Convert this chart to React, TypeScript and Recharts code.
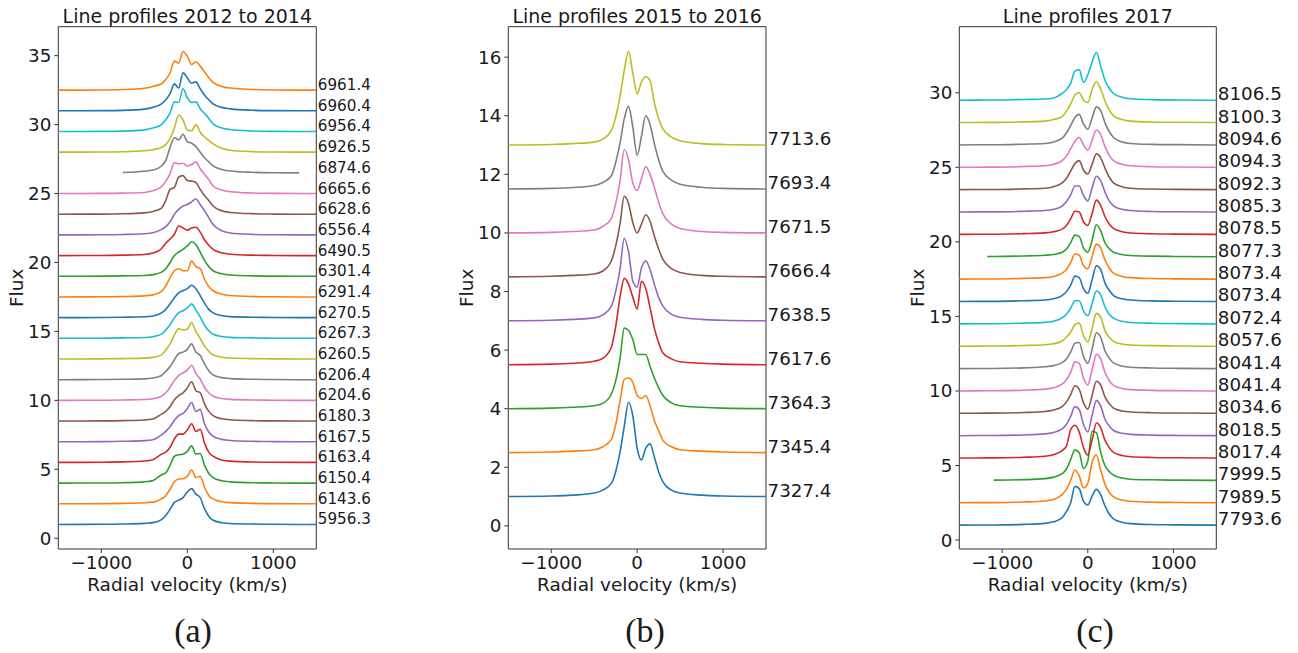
import { Line, LineChart, ReferenceArea, ReferenceDot, XAxis, YAxis } from "recharts";

// matplotlib default colour cycle
const palette = [
  "#1f77b4", "#ff7f0e", "#2ca02c", "#d62728", "#9467bd",
  "#8c564b", "#e377c2", "#7f7f7f", "#bcbd22", "#17becf",
];

// ---- 2012 to 2014 ----
// radial velocity grid (km/s)
const velocitiesA = [-1500, -1000, -750, -500, -400, -300, -250, -200, -150, -100, -50, 0, 50, 100, 150, 200, 250, 300, 400, 500, 750, 1000, 1300, 1500];
// epochs, bottom profile first
const epochsA = [
  "5956.3", "6143.6", "6150.4", "6163.4", "6167.5", "6180.3", "6204.6", "6206.4",
  "6260.5", "6267.3", "6270.5", "6291.4", "6301.4", "6490.5", "6556.4", "6628.6",
  "6665.6", "6874.6", "6926.5", "6956.4", "6960.4", "6961.4",
];
// flux above continuum
const profilesA: (number | null)[][] = [
  [0, .01, .03, .08, .13, .35, .65, 1.1, 1.6, 1.75, 1.95, 2.35, 2.6, 2.2, 1.95, 1.15, .6, .3, .13, .07, .03, .01, 0, 0],
  [0, .01, .03, .07, .12, .35, .6, 1.05, 1.6, 1.8, 1.82, 2.0, 2.45, 1.9, 2.0, 1.2, .6, .35, .15, .08, .03, .01, 0, 0],
  [0, .01, .03, .09, .18, .6, .75, 1.3, 1.95, 2.05, 2.1, 2.3, 2.7, 2.1, 2.15, 1.3, .7, .4, .17, .09, .03, .01, 0, 0],
  [0, .01, .04, .1, .2, .6, .75, 1.1, 1.7, 2.05, 2.05, 2.35, 2.8, 2.25, 2.4, 1.4, .75, .45, .18, .09, .03, .01, 0, 0],
  [0, .01, .03, .08, .15, .5, .75, 1.1, 1.55, 1.9, 2.05, 2.4, 2.85, 2.2, 2.35, 1.3, .7, .4, .17, .09, .03, .01, 0, 0],
  [0, .01, .03, .08, .15, .5, .7, 1.05, 1.55, 1.85, 2.05, 2.4, 2.85, 2.2, 2.05, 1.25, .7, .4, .17, .09, .03, .01, 0, 0],
  [0, .01, .03, .06, .12, .3, .55, .95, 1.45, 1.8, 2.0, 2.2, 2.55, 1.95, 1.55, .95, .55, .3, .13, .07, .03, .01, 0, 0],
  [0, .01, .03, .06, .12, .3, .6, .95, 1.45, 1.9, 2.0, 2.2, 2.6, 2.0, 1.75, 1.15, .65, .35, .15, .08, .03, .01, 0, 0],
  [0, .01, .03, .06, .12, .3, .65, 1.1, 1.75, 2.2, 2.1, 2.15, 2.65, 2.0, 1.5, .95, .55, .3, .13, .07, .03, .01, 0, 0],
  [0, .01, .03, .06, .12, .3, .6, 1.0, 1.5, 1.85, 2.0, 2.2, 2.5, 2.05, 1.55, .95, .55, .3, .13, .07, .03, .01, 0, 0],
  [0, .01, .03, .06, .12, .35, .6, 1.0, 1.45, 1.8, 1.95, 2.1, 2.35, 2.1, 1.6, 1.05, .6, .35, .15, .07, .03, .01, 0, 0],
  [0, .01, .03, .08, .15, .4, .8, 1.4, 1.9, 2.05, 1.9, 1.9, 2.6, 2.2, 2.05, 1.3, .75, .45, .2, .1, .03, .01, 0, 0],
  [0, .01, .03, .06, .12, .3, .55, 1.0, 1.5, 1.75, 1.95, 2.2, 2.5, 2.3, 1.75, 1.15, .7, .4, .18, .09, .03, .01, 0, 0],
  [0, .01, .03, .08, .18, .5, .9, 1.2, 1.55, 2.15, 2.0, 1.85, 2.0, 2.05, 1.7, 1.15, .75, .45, .2, .1, .03, .01, 0, 0],
  [0, .01, .03, .08, .15, .4, .6, .95, 1.5, 1.85, 2.1, 2.2, 2.4, 2.6, 2.2, 1.75, 1.25, .75, .3, .14, .04, .01, 0, 0],
  [0, .01, .03, .1, .2, .45, 1.0, 1.8, 1.95, 2.7, 2.8, 2.45, 2.4, 2.3, 1.8, 1.35, 1.0, .6, .25, .13, .04, .01, 0, 0],
  [0, .01, .03, .08, .2, .5, .9, 1.45, 2.25, 2.15, 2.2, 2.0, 2.1, 2.3, 1.8, 1.4, 1.0, .55, .25, .13, .04, .01, 0, 0],
  [null, null, .03, .12, .2, .5, .9, 1.85, 2.55, 2.4, 2.8, 2.25, 2.15, 1.9, 1.5, 1.1, .8, .5, .25, .13, .04, .01, 0, null],
  [0, .01, .03, .1, .18, .35, .55, 1.0, 1.75, 2.7, 2.35, 1.6, 1.55, 2.0, 1.45, 1.1, .85, .6, .28, .14, .04, .01, 0, 0],
  [0, .01, .03, .12, .25, .5, .85, 1.35, 2.15, 2.1, 3.1, 2.45, 2.1, 2.15, 1.65, 1.3, .95, .55, .25, .14, .04, .01, 0, 0],
  [0, .01, .03, .12, .25, .5, .8, 1.25, 1.95, 1.65, 2.75, 2.4, 2.0, 2.1, 1.6, 1.15, .8, .5, .25, .14, .04, .01, 0, 0],
  [0, .01, .04, .14, .27, .46, .77, 1.26, 2.1, 1.95, 2.8, 2.47, 1.86, 2.06, 1.74, 1.33, .9, .56, .27, .15, .05, .01, 0, 0],
];

// ---- 2015 to 2016 ----
const velocitiesB = [-1500, -1000, -750, -500, -400, -300, -250, -200, -150, -100, -50, 0, 50, 100, 150, 200, 250, 300, 400, 500, 750, 1000, 1500];
const epochsB = ["7327.4", "7345.4", "7364.3", "7617.6", "7638.5", "7666.4", "7671.5", "7693.4", "7713.6"];
const profilesB: (number | null)[][] = [
  [0, .02, .05, .12, .22, .45, .85, 1.5, 2.4, 3.22, 2.75, 1.65, 1.25, 1.65, 1.8, 1.35, .85, .5, .22, .12, .05, .02, 0],
  [0, .02, .05, .1, .2, .45, .95, 1.75, 2.5, 2.55, 2.4, 1.95, 1.85, 1.95, 1.6, 1.1, .75, .42, .2, .1, .05, .02, 0],
  [0, .02, .05, .1, .18, .5, .95, 1.7, 2.75, 2.67, 2.35, 1.85, 1.85, 1.85, 1.45, 1.05, .72, .45, .2, .1, .05, .02, 0],
  [0, .02, .05, .12, .22, .6, 1.3, 2.3, 2.95, 2.75, 2.3, 1.9, 2.85, 2.6, 1.95, 1.25, .75, .4, .2, .1, .05, .02, 0],
  [0, .02, .05, .1, .2, .5, 1.0, 1.75, 2.82, 2.35, 1.35, 1.15, 1.8, 2.05, 1.75, 1.25, .8, .5, .22, .12, .05, .02, 0],
  [0, .02, .05, .1, .2, .55, 1.05, 1.8, 2.75, 2.5, 1.85, 1.5, 1.8, 2.12, 1.9, 1.4, .95, .6, .28, .15, .05, .02, 0],
  [0, .02, .05, .1, .22, .5, 1.0, 1.75, 2.85, 2.5, 1.7, 1.45, 1.85, 2.27, 2.0, 1.55, 1.05, .65, .3, .15, .05, .02, 0],
  [0, .02, .05, .12, .22, .45, .9, 1.55, 2.4, 2.82, 2.1, 1.15, 1.8, 2.5, 2.2, 1.55, 1.0, .6, .3, .16, .06, .02, 0],
  [0, .02, .05, .1, .2, .5, .95, 1.65, 2.55, 3.2, 2.45, 1.75, 2.15, 2.33, 2.2, 1.45, .9, .55, .27, .15, .05, .02, 0],
];

// ---- 2017 ----
const velocitiesC = [-1500, -1175, -1100, -750, -500, -400, -300, -250, -200, -150, -100, -50, 0, 50, 100, 150, 200, 250, 300, 400, 500, 750, 1000, 1500];
const epochsC = [
  "7793.6", "7989.5", "7999.5", "8017.4", "8018.5", "8034.6", "8041.4", "8041.4", "8057.6", "8072.4",
  "8073.4", "8073.4", "8077.3", "8078.5", "8085.3", "8092.3", "8094.3", "8094.6", "8100.3", "8106.5",
];
const profilesC: (number | null)[][] = [
  [0, .01, .01, .05, .12, .22, .5, .9, 1.5, 2.6, 2.45, 1.6, 1.35, 1.95, 2.4, 2.05, 1.3, .75, .42, .2, .1, .04, .02, 0],
  [0, .01, .01, .05, .12, .22, .55, .9, 1.5, 2.2, 1.8, 1.0, 1.3, 2.7, 3.2, 2.2, 1.25, .7, .4, .18, .1, .04, .02, 0],
  [null, null, .02, .05, .12, .22, .45, .75, 1.4, 2.05, 1.85, .8, 1.3, 3.3, 3.2, 1.9, 1.0, .6, .35, .16, .08, .04, .02, 0],
  [0, .01, .01, .05, .12, .22, .5, .8, 1.9, 2.2, 1.75, .7, .2, 1.2, 2.35, 2.05, 1.2, .7, .38, .17, .09, .04, .02, 0],
  [0, .01, .01, .05, .12, .22, .45, .75, 1.3, 1.95, 1.75, .75, .25, 1.35, 2.35, 2.0, 1.1, .65, .35, .16, .09, .04, .02, 0],
  [0, .01, .01, .05, .12, .22, .45, .75, 1.25, 1.85, 1.6, .7, .28, 1.2, 2.15, 1.9, 1.1, .65, .35, .16, .09, .04, .02, 0],
  [0, .01, .01, .05, .12, .22, .45, .75, 1.25, 1.95, 1.85, .85, .4, 1.4, 2.45, 2.15, 1.25, .7, .38, .17, .09, .04, .02, 0],
  [0, .01, .01, .05, .12, .2, .4, .65, 1.1, 1.7, 1.75, .8, .35, 1.3, 2.4, 2.1, 1.2, .7, .38, .17, .09, .04, .02, 0],
  [0, .01, .01, .05, .1, .17, .35, .6, .95, 1.45, 1.55, .7, .28, 1.2, 2.2, 1.95, 1.05, .6, .33, .15, .08, .04, .02, 0],
  [0, .01, .01, .05, .1, .18, .4, .65, 1.05, 1.55, 1.55, .85, .55, 1.35, 2.2, 1.95, 1.15, .65, .38, .17, .09, .04, .02, 0],
  [0, .01, .01, .05, .1, .18, .4, .65, 1.1, 1.7, 1.6, .85, .55, 1.45, 2.4, 2.15, 1.25, .75, .4, .18, .1, .04, .02, 0],
  [0, .01, .01, .05, .1, .18, .4, .65, 1.1, 1.7, 1.6, .9, .7, 1.5, 2.35, 2.1, 1.3, .75, .4, .18, .1, .04, .02, 0],
  [null, .02, .02, .05, .1, .15, .3, .5, .95, 1.45, 1.35, .6, .3, 1.1, 2.15, 1.75, .95, .55, .3, .15, .08, .04, .02, 0],
  [0, .01, .01, .05, .1, .18, .35, .6, 1.05, 1.55, 1.5, .85, .6, 1.4, 2.3, 1.95, 1.2, .7, .4, .18, .09, .04, .02, 0],
  [0, .01, .01, .05, .1, .18, .4, .7, 1.15, 1.75, 1.75, 1.1, .75, 1.6, 2.4, 2.1, 1.35, .75, .42, .18, .1, .04, .02, 0],
  [0, .01, .01, .05, .1, .2, .45, .75, 1.25, 1.75, 1.95, 1.3, 1.05, 1.7, 2.4, 2.15, 1.45, .85, .45, .2, .1, .04, .02, 0],
  [0, .01, .01, .05, .1, .2, .45, .75, 1.25, 1.75, 2.0, 1.5, 1.15, 1.8, 2.5, 2.2, 1.4, .8, .45, .2, .1, .04, .02, 0],
  [0, .01, .01, .05, .1, .2, .45, .8, 1.3, 1.85, 2.05, 1.4, 1.05, 1.8, 2.55, 2.3, 1.5, .9, .5, .2, .1, .04, .02, 0],
  [0, .01, .01, .05, .1, .2, .4, .75, 1.25, 1.85, 2.0, 1.5, 1.35, 2.2, 2.75, 2.25, 1.45, .85, .45, .2, .1, .04, .02, 0],
  [0, .01, .01, .05, .08, .15, .45, .7, 1.15, 1.95, 2.05, 1.2, 1.7, 2.55, 3.2, 2.3, 1.35, .8, .45, .2, .1, .04, .02, 0],
];

const FONT = "DejaVu Sans";
const INK = "#1a1a1a";
const FIRST_OFFSET = 1;
const OFFSET_STEP = 1.5;
const CHART_H = 653;
const PLOT_TOP = 26.7;
const PLOT_BOTTOM = 549;
const Y_AXIS_W = 50;
const X_AXIS_H = 30;

const fmtTick = (v: number) => (v < 0 ? `\u2212${Math.abs(v)}` : `${v}`);

type PanelProps = {
  left: number;
  width: number;
  plotLeft: number;
  plotWidth: number;
  title: string;
  tag: string;
  tagX: number;
  velocities: number[];
  profiles: (number | null)[][];
  epochs: string[];
  yDomain: [number, number];
  yTicks: number[];
  epochSize: number;
};

function ProfilePanel(props: PanelProps) {
  const { left, width, plotLeft, plotWidth, title, tag, tagX, velocities, profiles, epochs, yDomain, yTicks, epochSize } = props;

  // each profile is stacked on its own continuum level
  const data = velocities.map((v, j) => {
    const row: Record<string, number | null> = { v };
    profiles.forEach((p, i) => {
      const f = p[j];
      row[`s${i}`] = f === null ? null : FIRST_OFFSET + OFFSET_STEP * i + f;
    });
    return row;
  });

  const localPlotLeft = plotLeft - left;
  const midX = localPlotLeft + plotWidth / 2;
  const midY = (PLOT_TOP + PLOT_BOTTOM) / 2;

  return (
    <div style={{ position: "absolute", left, top: 0 }}>
      <LineChart
        width={width}
        height={CHART_H}
        data={data}
        margin={{
          top: PLOT_TOP,
          left: localPlotLeft - Y_AXIS_W,
          right: width - localPlotLeft - plotWidth,
          bottom: CHART_H - PLOT_BOTTOM - X_AXIS_H,
        }}
        style={{ fontFamily: FONT }}
      >
        <XAxis
          dataKey="v"
          type="number"
          domain={[-1500, 1500]}
          ticks={[-1000, 0, 1000]}
          tickFormatter={fmtTick}
          allowDataOverflow
          height={X_AXIS_H}
          axisLine={false}
          tickSize={4}
          tickMargin={3}
          tickLine={{ stroke: "#333" }}
          tick={{ fontSize: 18.3, fill: INK, fontFamily: FONT }}
        />
        <YAxis
          type="number"
          domain={yDomain}
          ticks={yTicks}
          allowDataOverflow
          width={Y_AXIS_W}
          axisLine={false}
          tickSize={4}
          tickMargin={3}
          tickLine={{ stroke: "#333" }}
          tick={{ fontSize: 18.3, fill: INK, fontFamily: FONT }}
        />
        <ReferenceArea
          x1={-1500}
          x2={1500}
          y1={yDomain[0]}
          y2={yDomain[1]}
          fill="none"
          stroke="#333"
          strokeWidth={1}
          ifOverflow="visible"
        />
        {profiles.map((_, i) => (
          <Line
            key={`s${i}`}
            dataKey={`s${i}`}
            type="monotone"
            stroke={palette[i % palette.length]}
            strokeWidth={1.6}
            dot={false}
            activeDot={false}
            isAnimationActive={false}
          />
        ))}
        {epochs.map((e, i) => (
          <ReferenceDot
            key={`e${i}`}
            x={1500}
            y={FIRST_OFFSET + OFFSET_STEP * i}
            r={0}
            ifOverflow="visible"
            shape={(p: { cx: number; cy: number }) => (
              <text x={p.cx + 1.5} y={p.cy} fontSize={epochSize} fill={INK} fontFamily={FONT}>
                {e}
              </text>
            )}
          />
        ))}
        <text x={midX} y={23.3} textAnchor="middle" fontSize={19} fill={INK} fontFamily={FONT}>
          {title}
        </text>
        <text
          x={localPlotLeft - 35}
          y={midY}
          transform={`rotate(-90, ${localPlotLeft - 35}, ${midY})`}
          textAnchor="middle"
          fontSize={18.5}
          fill={INK}
          fontFamily={FONT}
        >
          Flux
        </text>
        <text x={midX} y={590.6} textAnchor="middle" fontSize={18.5} fill={INK} fontFamily={FONT}>
          Radial velocity (km/s)
        </text>
        <text x={tagX - left} y={642} textAnchor="middle" fontSize={34} fill={INK} fontFamily="Liberation Serif">
          {tag}
        </text>
      </LineChart>
    </div>
  );
}

export default function App() {
  return (
    <div style={{ position: "absolute", left: 0, top: 0, width: 1298, height: 653, background: "#fff" }}>
      <ProfilePanel
        left={0}
        width={450}
        plotLeft={58.3}
        plotWidth={258}
        title="Line profiles 2012 to 2014"
        tag="(a)"
        tagX={193}
        velocities={velocitiesA}
        profiles={profilesA}
        epochs={epochsA}
        yDomain={[-0.78, 37.1]}
        yTicks={[0, 5, 10, 15, 20, 25, 30, 35]}
        epochSize={15.2}
      />
      <ProfilePanel
        left={450}
        width={450}
        plotLeft={508.3}
        plotWidth={257.7}
        title="Line profiles 2015 to 2016"
        tag="(b)"
        tagX={645}
        velocities={velocitiesB}
        profiles={profilesB}
        epochs={epochsB}
        yDomain={[-0.79, 17.04]}
        yTicks={[0, 2, 4, 6, 8, 10, 12, 14, 16]}
        epochSize={18.3}
      />
      <ProfilePanel
        left={900}
        width={398}
        plotLeft={959.3}
        plotWidth={257}
        title="Line profiles 2017"
        tag="(c)"
        tagX={1095}
        velocities={velocitiesC}
        profiles={profilesC}
        epochs={epochsC}
        yDomain={[-0.6, 34.43]}
        yTicks={[0, 5, 10, 15, 20, 25, 30]}
        epochSize={18.3}
      />
    </div>
  );
}
